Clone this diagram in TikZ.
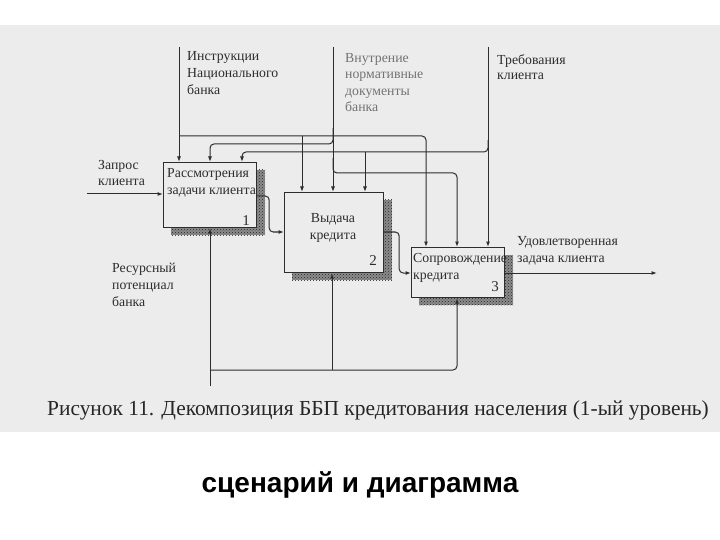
\documentclass[tikz,border=0pt]{standalone}
\usepackage{fontspec}
\setmainfont{Liberation Serif}
\newfontfamily\sansbold{Liberation Sans}
\usetikzlibrary{arrows.meta,patterns}
\definecolor{scanbg}{RGB}{236,236,236}
\definecolor{ink}{RGB}{45,45,45}
\begin{document}
\begin{tikzpicture}[x=1pt,y=-1pt,
  box/.style={draw=ink, line width=1.2pt, fill=scanbg, anchor=north west, inner sep=0pt},
  shadowbox/.style={preaction={fill=black!45}, pattern=crosshatch dots, pattern color=black!85},
  conn/.style={draw=ink, line width=1pt, rounded corners=4pt},
  arr/.style={conn, -{Latex[length=5.5pt,width=4pt]}},
  lbl/.style={anchor=north west, inner sep=0pt, align=left, font=\fontsize{13.8}{17}\selectfont, text=ink},
  num/.style={inner sep=0pt, font=\fontsize{15}{17}\selectfont, text=ink}]
\useasboundingbox (0,0) rectangle (720,540);
\fill[white] (0,0) rectangle (720,540);
\fill[scanbg] (0,25) rectangle (720,432);

% shadows
\path[shadowbox] (171,170) rectangle (265,235);
\path[shadowbox] (292,200) rectangle (392,280);
\path[shadowbox] (419,255) rectangle (513,305);

% boxes
\node[box, minimum width=93pt, minimum height=65pt] (b1) at (163,162) {};
\node[box, minimum width=99pt, minimum height=80pt] (b2) at (284,192) {};
\node[box, minimum width=93pt, minimum height=50pt] (b3) at (411,247) {};

% box texts
\node[lbl] (t1) at (167,168) {Рассмотрения\\задачи клиента};
\node[num] (n1) at (246,221) {1};
\node[lbl, align=center, anchor=north] (t2) at (333,213) {Выдача\\кредита};
\node[num] (n2) at (373,261) {2};
\node[lbl] (t3) at (413,253) {Сопровождение\\кредита};
\node[num] (n3) at (495,287) {3};

% free ends
\coordinate (instrTop) at (179,47);
\coordinate (vnTop) at (333,47);
\coordinate (trTop) at (488,47);
\coordinate (reqStart) at (87,194);
\coordinate (outEnd) at (657,273);
\coordinate (mechStart) at (210,386);

% controls
\draw[arr] (instrTop) -- ([xshift=16pt]b1.north west);
\draw[arr] (179,136) -| ([xshift=15pt]b3.north west);
\draw[arr] (302,136) -- ([xshift=18pt]b2.north west);
\draw[arr] (vnTop) -- ([xshift=49pt]b2.north west);
\draw[arr] (333,128) |- (210,144) -- ([xshift=47pt]b1.north west);
\draw[arr] (333,158) |- (457,173) -- ([xshift=46pt]b3.north west);
\draw[arr] (trTop) -- ([xshift=77pt]b3.north west);
\draw[arr] (488,140) |- (242,152) -- ([xshift=79pt]b1.north west);
\draw[arr] (365,152) -- ([xshift=81pt]b2.north west);

% input / flow / output
\draw[arr] (reqStart) -- (reqStart -| b1.west);
\draw[arr] ([yshift=-34pt]b1.north east) -- ++(12,0) |- ([yshift=-40pt]b2.north west);
\draw[arr] ([yshift=-40pt]b2.north east) -- ++(15,0) |- ([yshift=-26pt]b3.north west);
\draw[arr] ([yshift=-26pt]b3.north east) -- (outEnd);

% mechanisms
\draw[arr] (mechStart) -- ([xshift=47pt]b1.south west);
\draw[arr] (210,370) -| ([xshift=46pt]b3.south west);
\draw[arr] (332,370) -- ([xshift=48pt]b2.south west);

% outer labels
\node[lbl] (l1) at (187,51) {Инструкции\\Национального\\банка};
\node[lbl, text=black!55, font=\fontsize{13.8}{16.5}\selectfont] (l2) at (345,53) {Внутрение\\нормативные\\документы\\банка};
\node[lbl, font=\fontsize{13.8}{15.5}\selectfont] (l3) at (497,54) {Требования\\клиента};
\node[lbl, font=\fontsize{13.8}{16.5}\selectfont] (l4) at (98,160) {Запрос\\клиента};
\node[lbl] (l5) at (112,263) {Ресурсный\\потенциал\\банка};
\node[lbl] (l6) at (517,236) {Удовлетворенная\\задача клиента};

% caption and title
\node[anchor=west, inner sep=0pt, font=\fontsize{21.4}{25}\selectfont, text=black!85] (cap) at (47,410) {Рисунок 11. Декомпозиция ББП кредитования населения (1-ый уровень)};
\node[inner sep=0pt, font=\sansbold\bfseries\fontsize{28}{32}\selectfont] (ttl) at (360,485) {сценарий и диаграмма};
\end{tikzpicture}
\end{document}
